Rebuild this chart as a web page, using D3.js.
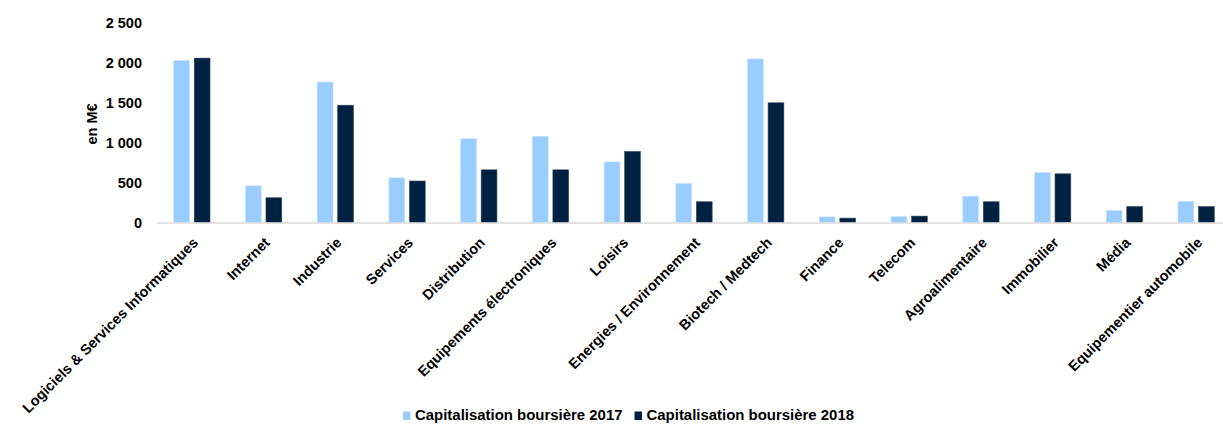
<!DOCTYPE html>
<html>
<head>
<meta charset="utf-8">
<script src="https://cdn.jsdelivr.net/npm/d3@7"></script>
<style>
  html, body { margin: 0; padding: 0; background: #fff; }
  svg { display: block; font-family: Arial, "Liberation Sans", sans-serif; }
</style>
</head>
<body>
<svg id="chart" width="1223" height="425"></svg>
<script>
const categories = [
  "Logiciels & Services Informatiques", "Internet", "Industrie", "Services",
  "Distribution", "Equipements électroniques", "Loisirs", "Energies / Environnement",
  "Biotech / Medtech", "Finance", "Telecom", "Agroalimentaire", "Immobilier",
  "Média", "Equipementier automobile"
];
const seriesNames = ["Capitalisation boursière 2017", "Capitalisation boursière 2018"];
const values2017 = [2030, 460, 1760, 560, 1050, 1080, 760, 490, 2050, 70, 75, 330, 625, 150, 265];
const values2018 = [2060, 310, 1470, 520, 660, 660, 890, 260, 1500, 55, 80, 260, 610, 200, 200];
const yTicks = [0, 500, 1000, 1500, 2000, 2500];
const colors = ["#99ccff", "#002142"];

const fr = d3.formatLocale({ decimal: ",", thousands: " ", grouping: [3], currency: ["", " €"] });
const fmt = fr.format(",");
const fontSize = 14.5;

const svg = d3.select("#chart");

const rows = categories.map((c, i) => ({ cat: c, vals: [values2017[i], values2018[i]] }));

const x0 = d3.scaleBand().domain(categories).range([156, 1232]).paddingInner(0.494).paddingOuter(0.247);
const x1 = d3.scaleBand().domain([0, 1]).range([0, x0.bandwidth()]).paddingInner(0.23);
const y = d3.scaleLinear().domain([0, 2500]).range([222.5, 23]);

// bars
const groups = svg.append("g").selectAll("g").data(rows).join("g")
  .attr("transform", d => `translate(${x0(d.cat)},0)`);

groups.selectAll("rect").data(d => d.vals.map((v, k) => ({ v, k }))).join("rect")
  .attr("x", d => x1(d.k))
  .attr("y", d => y(d.v))
  .attr("width", x1.bandwidth())
  .attr("height", d => y(0) - y(d.v))
  .attr("fill", d => colors[d.k])
  .attr("stroke", d => d.k === 0 ? "#c4e1ff" : "#34495f")
  .attr("stroke-width", 0.6);

// y axis
const yAxis = svg.append("g").attr("transform", "translate(142,0)")
  .call(d3.axisLeft(y).tickValues(yTicks).tickSize(0).tickPadding(0).tickFormat(fmt));
yAxis.select(".domain").remove();
yAxis.selectAll("text")
  .attr("font-size", fontSize).attr("font-weight", "bold").attr("fill", "#000")
  .attr("font-family", "Arial, 'Liberation Sans', sans-serif");

svg.append("text")
  .attr("transform", "translate(97,124) rotate(-90)")
  .attr("text-anchor", "middle")
  .attr("font-size", fontSize).attr("font-weight", "bold")
  .text("en M€");

// x axis
const xAxis = svg.append("g").attr("transform", `translate(0,${y(0)})`)
  .call(d3.axisBottom(x0).tickSize(0).tickSizeOuter(0));
xAxis.select(".domain").attr("stroke", "#d9d9d9").attr("stroke-width", 1.5);
xAxis.selectAll("text")
  .attr("x", 0).attr("y", 0).attr("dy", 0)
  .attr("text-anchor", "end")
  .attr("transform", "translate(7,21) rotate(-45)")
  .attr("font-size", fontSize).attr("font-weight", "bold").attr("fill", "#000")
  .attr("font-family", "Arial, 'Liberation Sans', sans-serif");

// legend (slightly wider than Liberation Sans in the reference)
const legend = svg.append("g").attr("transform", "translate(403,420)");
let lx = 0;
seriesNames.forEach((name, k) => {
  const g = legend.append("g").attr("transform", `translate(${lx},0)`);
  g.append("rect").attr("x", 0).attr("y", -8.5).attr("width", 7.5).attr("height", 8.5).attr("fill", colors[k]);
  const t = g.append("text").attr("x", 12).attr("y", 0)
    .attr("font-size", fontSize).attr("font-weight", "bold").text(name);
  const w = t.node().getComputedTextLength() * 1.03;
  t.attr("textLength", w).attr("lengthAdjust", "spacingAndGlyphs");
  lx += 12 + w + 12;
});
</script>
</body>
</html>
